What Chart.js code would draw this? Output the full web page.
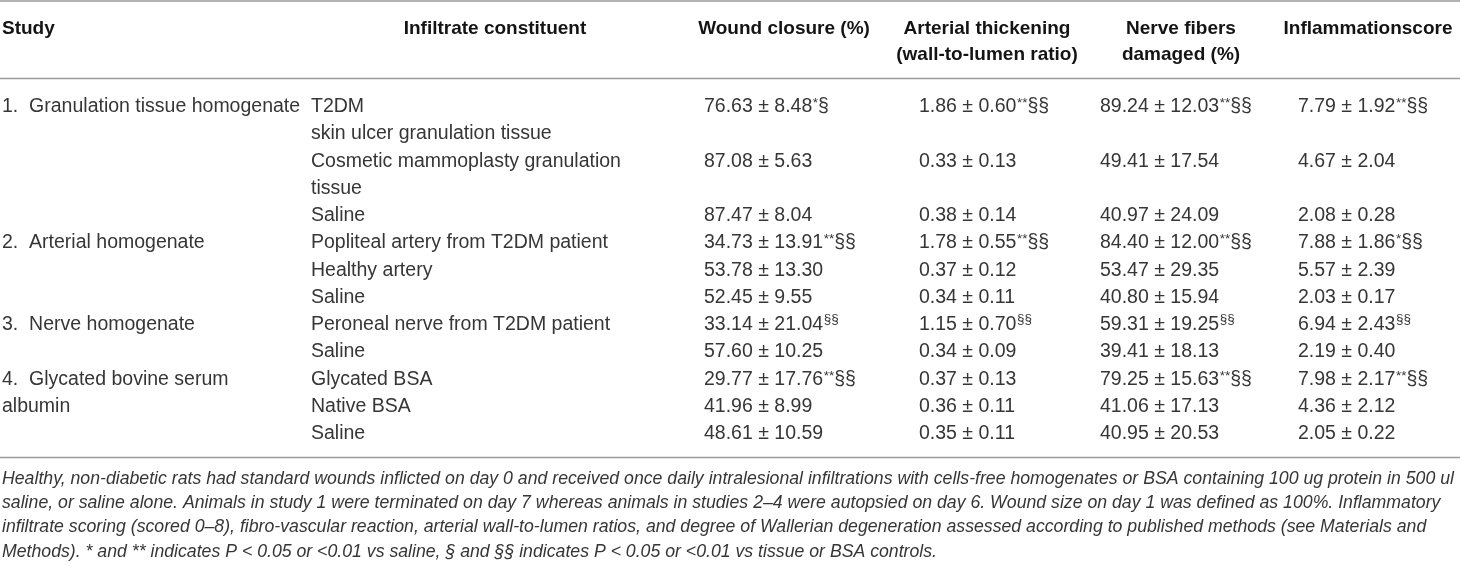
<!DOCTYPE html>
<html>
<head>
<meta charset="utf-8">
<style>
html,body{margin:0;padding:0;background:#fff;overflow:hidden}
#wrap{width:1460px;height:566px;position:relative}
canvas{display:block}
</style>
<script src="https://cdn.jsdelivr.net/npm/chart.js@4.4.1/dist/chart.umd.min.js"></script>
</head>
<body>
<div id="wrap"><canvas id="c" width="1460" height="566"></canvas></div>
<script>
// ---------- DATA ----------
const headers = [
  ["Study"],
  ["Infiltrate constituent"],
  ["Wound closure (%)"],
  ["Arterial thickening", "(wall-to-lumen ratio)"],
  ["Nerve fibers", "damaged (%)"],
  ["Inflammationscore"]
];
const studies = [
  "1.  Granulation tissue homogenate",
  "2.  Arterial homogenate",
  "3.  Nerve homogenate",
  "4.  Glycated bovine serum\nalbumin"
];
const studyFirstRow = [0, 3, 6, 8];
const constituents = [
  "T2DM\nskin ulcer granulation tissue",
  "Cosmetic mammoplasty granulation\ntissue",
  "Saline",
  "Popliteal artery from T2DM patient",
  "Healthy artery",
  "Saline",
  "Peroneal nerve from T2DM patient",
  "Saline",
  "Glycated BSA",
  "Native BSA",
  "Saline"
];
const woundMean = [76.63, 87.08, 87.47, 34.73, 53.78, 52.45, 33.14, 57.60, 29.77, 41.96, 48.61];
const woundSD   = [8.48, 5.63, 8.04, 13.91, 13.30, 9.55, 21.04, 10.25, 17.76, 8.99, 10.59];
const woundSig  = ["*§", "", "", "**§§", "", "", "§§", "", "**§§", "", ""];
const arterialMean = [1.86, 0.33, 0.38, 1.78, 0.37, 0.34, 1.15, 0.34, 0.37, 0.36, 0.35];
const arterialSD   = [0.60, 0.13, 0.14, 0.55, 0.12, 0.11, 0.70, 0.09, 0.13, 0.11, 0.11];
const arterialSig  = ["**§§", "", "", "**§§", "", "", "§§", "", "", "", ""];
const nerveMean = [89.24, 49.41, 40.97, 84.40, 53.47, 40.80, 59.31, 39.41, 79.25, 41.06, 40.95];
const nerveSD   = [12.03, 17.54, 24.09, 12.00, 29.35, 15.94, 19.25, 18.13, 15.63, 17.13, 20.53];
const nerveSig  = ["**§§", "", "", "**§§", "", "", "§§", "", "**§§", "", ""];
const inflMean = [7.79, 4.67, 2.08, 7.88, 5.57, 2.03, 6.94, 2.19, 7.98, 4.36, 2.05];
const inflSD   = [1.92, 2.04, 0.28, 1.86, 2.39, 0.17, 2.43, 0.40, 2.17, 2.12, 0.22];
const inflSig  = ["**§§", "", "", "*§§", "", "", "§§", "", "**§§", "", ""];
const footnote = [
  "Healthy, non-diabetic rats had standard wounds inflicted on day 0 and received once daily intralesional infiltrations with cells-free homogenates or BSA containing 100 ug protein in 500 ul",
  "saline, or saline alone. Animals in study 1 were terminated on day 7 whereas animals in studies 2\u20134 were autopsied on day 6. Wound size on day 1 was defined as 100%. Inflammatory",
  "infiltrate scoring (scored 0\u20138), fibro-vascular reaction, arterial wall-to-lumen ratios, and degree of Wallerian degeneration assessed according to published methods (see Materials and",
  "Methods). * and ** indicates P < 0.05 or <0.01 vs saline, \u00a7 and \u00a7\u00a7 indicates P < 0.05 or <0.01 vs tissue or BSA controls."
];

// ---------- LAYOUT / STYLE ----------
const layout = {
  colLeft:   [2, 311, 704, 919, 1100, 1298],
  colHeadCenter: [null, 495, 784, 987, 1181, 1368],
  headBase: [34, 60],
  bodyBase0: 112, bodyStep: 27.25,
  footBase0: 484, footStep: 24.2,
  rules: [1, 78.5, 457.5],
  ruleColor: "#9a9a9a", ruleWidth: 1.6,
  family: "'Liberation Sans', Arial, Helvetica, sans-serif",
  bodySize: 19.5, headSize: 19, supSize: 13.5, sectSize: 19.5,
  bodyColor: "#363636", headColor: "#141414", footColor: "#363636",
  footWidth: 1454
};

const valueCols = [
  [woundMean, woundSD, woundSig],
  [arterialMean, arterialSD, arterialSig],
  [nerveMean, nerveSD, nerveSig],
  [inflMean, inflSD, inflSig]
];

// line index of each data row (rows with wrapped constituent take 2 lines)
const rowLine = [];
(function(){ let l = 0; constituents.forEach(c => { rowLine.push(l); l += c.split("\n").length; }); })();

const tablePlugin = {
  id: 'tablePlugin',
  afterDraw(chart) {
    const {ctx} = chart;
    const X = v => chart.scales.x.getPixelForValue(v);
    const Y = v => chart.scales.y.getPixelForValue(v);
    const F = (size, style) => `${style || ''} ${size}px ${layout.family}`;
    const bodyY = line => Y(layout.bodyBase0 + line * layout.bodyStep);
    ctx.save();
    ctx.textBaseline = 'alphabetic';

    // rules
    ctx.strokeStyle = layout.ruleColor;
    ctx.lineWidth = layout.ruleWidth;
    layout.rules.forEach(r => {
      ctx.beginPath(); ctx.moveTo(X(0), Y(r)); ctx.lineTo(X(1460), Y(r)); ctx.stroke();
    });

    // headers
    ctx.fillStyle = layout.headColor;
    ctx.font = F(layout.headSize, 'bold');
    headers.forEach((h, i) => {
      h.forEach((t, k) => {
        if (i === 0) { ctx.textAlign = 'left'; ctx.fillText(t, X(layout.colLeft[0]), Y(layout.headBase[k])); }
        else { ctx.textAlign = 'center'; ctx.fillText(t, X(layout.colHeadCenter[i]), Y(layout.headBase[k])); }
      });
    });

    // body
    ctx.fillStyle = layout.bodyColor;
    ctx.textAlign = 'left';
    ctx.font = F(layout.bodySize);
    studies.forEach((s, i) => {
      s.split("\n").forEach((t, k) => {
        ctx.fillText(t, X(layout.colLeft[0]), bodyY(rowLine[studyFirstRow[i]] + k));
      });
    });
    constituents.forEach((c, r) => {
      c.split("\n").forEach((t, k) => {
        ctx.fillText(t, X(layout.colLeft[1]), bodyY(rowLine[r] + k));
      });
    });
    valueCols.forEach((col, ci) => {
      const [m, sd, sig] = col;
      m.forEach((v, r) => {
        const x0 = X(layout.colLeft[ci + 2]);
        const yb = bodyY(rowLine[r]);
        const txt = v.toFixed(2) + " \u00b1 " + sd[r].toFixed(2);
        ctx.font = F(layout.bodySize);
        ctx.fillText(txt, x0, yb);
        let x = x0 + ctx.measureText(txt).width;
        const s = sig[r];
        if (s) {
          const stars = (s.match(/^\*+/) || [""])[0];
          const sect = s.slice(stars.length);
          if (stars) {
            ctx.font = F(layout.supSize);
            ctx.fillText(stars, x + 0.5, yb - 5);
            x += ctx.measureText(stars).width + 0.5;
            if (sect) {
              ctx.font = F(layout.sectSize);
              ctx.fillText(sect, x, yb);
            }
          } else if (sect) {
            ctx.font = F(layout.supSize);
            ctx.fillText(sect, x + 0.5, yb - 7);
          }
        }
      });
    });

    // footnote
    ctx.fillStyle = layout.footColor;
    let fs = 18;
    ctx.font = F(fs, 'italic');
    fs = fs * layout.footWidth / ctx.measureText(footnote[0]).width;
    ctx.font = F(fs.toFixed(2), 'italic');
    footnote.forEach((t, k) => {
      ctx.fillText(t, X(layout.colLeft[0]), Y(layout.footBase0 + k * layout.footStep), X(layout.footWidth + 4) - X(layout.colLeft[0]));
    });
    ctx.restore();
  }
};

new Chart(document.getElementById('c'), {
  type: 'scatter',
  data: { datasets: [] },
  options: {
    responsive: false,
    animation: false,
    events: [],
    layout: { padding: 0 },
    plugins: { legend: { display: false }, tooltip: { enabled: false } },
    scales: {
      x: { type: 'linear', min: 0, max: 1460, display: false },
      y: { type: 'linear', min: 0, max: 566, reverse: true, display: false }
    }
  },
  plugins: [tablePlugin]
});
</script>
</body>
</html>
